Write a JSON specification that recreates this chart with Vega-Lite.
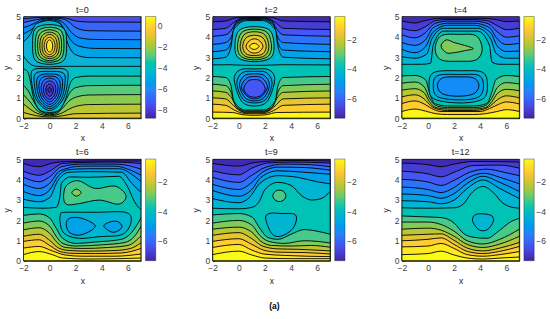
{"$schema":"https://vega.github.io/schema/vega-lite/v6.json","padding":{"left":1.5,"top":4.5,"right":0,"bottom":0},"bounds":"flush","columns":3,"spacing":{"column":71.2,"row":40.5},
"title":{"text":"(a)","orient":"bottom","anchor":"middle","fontSize":8.5,"fontWeight":"bold","font":"Liberation Sans","color":"#000000","offset":17},
"config":{"font":"Liberation Sans","view":{"stroke":"#262626","strokeWidth":0.8},"title":{"fontSize":9,"fontWeight":"normal","color":"#262626","offset":-2},"axis":{"grid":false,"labelFontSize":8.5,"titleFontSize":8.5,"titleFontWeight":"normal","labelColor":"#404040","titleColor":"#262626","domainColor":"#262626","tickColor":"#262626","tickSize":-2,"labelPadding":5,"titlePadding":4,"labelFlush":false,"labelOverlap":false},"legend":{"gradientLength":101.7,"gradientThickness":10.3,"offset":4.2,"padding":0,"labelFontSize":8.5,"labelColor":"#404040","tickCount":4,"gradientStrokeColor":"#262626","gradientStrokeWidth":0.4,"labelOffset":3}},
"datasets":{
"a0":[{"k":0,"v":-7.6,"x":-2,"y":5},{"k":0,"v":-7.6,"x":7,"y":5},
{"k":1,"v":-7,"x":-2,"y":4.88},{"k":1,"v":-7,"x":-1,"y":4.95},{"k":1,"v":-7,"x":0,"y":4.97},{"k":1,"v":-7,"x":1,"y":4.95},{"k":1,"v":-7,"x":1.5,"y":4.88},{"k":1,"v":-7,"x":2,"y":4.78},{"k":1,"v":-7,"x":3,"y":4.73},{"k":1,"v":-7,"x":7,"y":4.72},
{"k":2,"v":-6.4,"x":-2,"y":4.7},{"k":2,"v":-6.4,"x":-1,"y":4.85},{"k":2,"v":-6.4,"x":0,"y":4.93},{"k":2,"v":-6.4,"x":1,"y":4.88},{"k":2,"v":-6.4,"x":1.5,"y":4.72},{"k":2,"v":-6.4,"x":2,"y":4.45},{"k":2,"v":-6.4,"x":3,"y":4.3},{"k":2,"v":-6.4,"x":7,"y":4.28},
{"k":3,"v":-5.8,"x":-2,"y":4.45},{"k":3,"v":-5.8,"x":-1.2,"y":4.65},{"k":3,"v":-5.8,"x":-0.6,"y":4.85},{"k":3,"v":-5.8,"x":0,"y":4.9},{"k":3,"v":-5.8,"x":0.7,"y":4.83},{"k":3,"v":-5.8,"x":1.2,"y":4.6},{"k":3,"v":-5.8,"x":1.7,"y":4.2},{"k":3,"v":-5.8,"x":2.3,"y":3.95},{"k":3,"v":-5.8,"x":3.5,"y":3.87},{"k":3,"v":-5.8,"x":7,"y":3.86},
{"k":4,"v":-5.2,"x":-2,"y":4.15},{"k":4,"v":-5.2,"x":-1.2,"y":4.45},{"k":4,"v":-5.2,"x":-0.7,"y":4.75},{"k":4,"v":-5.2,"x":0,"y":4.85},{"k":4,"v":-5.2,"x":0.7,"y":4.75},{"k":4,"v":-5.2,"x":1.1,"y":4.4},{"k":4,"v":-5.2,"x":1.6,"y":3.85},{"k":4,"v":-5.2,"x":2.2,"y":3.55},{"k":4,"v":-5.2,"x":3.5,"y":3.43},{"k":4,"v":-5.2,"x":7,"y":3.42},
{"k":5,"v":-4.6,"x":-2,"y":3.75},{"k":5,"v":-4.6,"x":-1.5,"y":4.1},{"k":5,"v":-4.6,"x":-1,"y":4.65},{"k":5,"v":-4.6,"x":0,"y":4.8},{"k":5,"v":-4.6,"x":0.8,"y":4.65},{"k":5,"v":-4.6,"x":1.1,"y":4.2},{"k":5,"v":-4.6,"x":1.5,"y":3.5},{"k":5,"v":-4.6,"x":2,"y":3.12},{"k":5,"v":-4.6,"x":3,"y":2.98},{"k":5,"v":-4.6,"x":7,"y":2.97},
{"k":6,"v":-4,"x":-2,"y":3.05},{"k":6,"v":-4,"x":-1.55,"y":2.7},{"k":6,"v":-4,"x":-1,"y":2.55},{"k":6,"v":-4,"x":0,"y":2.52},{"k":6,"v":-4,"x":1,"y":2.55},{"k":6,"v":-4,"x":1.5,"y":2.55},{"k":6,"v":-4,"x":7,"y":2.55},
{"k":7,"v":-3.4,"x":-2,"y":2.42},{"k":7,"v":-3.4,"x":-1.7,"y":2.3},{"k":7,"v":-3.4,"x":-1.5,"y":1.9},{"k":7,"v":-3.4,"x":-1.3,"y":1.2},{"k":7,"v":-3.4,"x":-1,"y":0.6},{"k":7,"v":-3.4,"x":-0.5,"y":0.32},{"k":7,"v":-3.4,"x":0,"y":0.28},{"k":7,"v":-3.4,"x":0.5,"y":0.32},{"k":7,"v":-3.4,"x":1,"y":0.6},{"k":7,"v":-3.4,"x":1.3,"y":1.1},{"k":7,"v":-3.4,"x":1.6,"y":1.75},{"k":7,"v":-3.4,"x":2,"y":2},{"k":7,"v":-3.4,"x":3,"y":2.07},{"k":7,"v":-3.4,"x":7,"y":2.07},
{"k":8,"v":-2.8,"x":-2,"y":1.62},{"k":8,"v":-2.8,"x":-1.6,"y":1.3},{"k":8,"v":-2.8,"x":-1.2,"y":0.8},{"k":8,"v":-2.8,"x":-0.7,"y":0.35},{"k":8,"v":-2.8,"x":0,"y":0.22},{"k":8,"v":-2.8,"x":0.7,"y":0.35},{"k":8,"v":-2.8,"x":1.2,"y":0.85},{"k":8,"v":-2.8,"x":1.6,"y":1.3},{"k":8,"v":-2.8,"x":2,"y":1.5},{"k":8,"v":-2.8,"x":3,"y":1.6},{"k":8,"v":-2.8,"x":7,"y":1.62},
{"k":9,"v":-2.2,"x":-2,"y":1.15},{"k":9,"v":-2.2,"x":-1.5,"y":0.8},{"k":9,"v":-2.2,"x":-1,"y":0.4},{"k":9,"v":-2.2,"x":-0.4,"y":0.2},{"k":9,"v":-2.2,"x":0,"y":0.17},{"k":9,"v":-2.2,"x":0.5,"y":0.22},{"k":9,"v":-2.2,"x":1,"y":0.5},{"k":9,"v":-2.2,"x":1.5,"y":0.85},{"k":9,"v":-2.2,"x":2,"y":1.03},{"k":9,"v":-2.2,"x":3,"y":1.14},{"k":9,"v":-2.2,"x":7,"y":1.16},
{"k":10,"v":-1.6,"x":-2,"y":0.7},{"k":10,"v":-1.6,"x":-1.5,"y":0.45},{"k":10,"v":-1.6,"x":-1,"y":0.25},{"k":10,"v":-1.6,"x":0,"y":0.12},{"k":10,"v":-1.6,"x":1,"y":0.27},{"k":10,"v":-1.6,"x":1.5,"y":0.45},{"k":10,"v":-1.6,"x":2,"y":0.58},{"k":10,"v":-1.6,"x":3,"y":0.67},{"k":10,"v":-1.6,"x":7,"y":0.69},
{"k":11,"v":-1,"x":-2,"y":0.28},{"k":11,"v":-1,"x":-1,"y":0.12},{"k":11,"v":-1,"x":0,"y":0.06},{"k":11,"v":-1,"x":1,"y":0.12},{"k":11,"v":-1,"x":2,"y":0.22},{"k":11,"v":-1,"x":7,"y":0.25}],
"c0":[{"k":1,"v":-3.4,"x":1.3,"y":3.62},{"k":1,"v":-3.4,"x":1.1,"y":4.4},{"k":1,"v":-3.4,"x":0,"y":4.6},{"k":1,"v":-3.4,"x":-1.1,"y":4.4},{"k":1,"v":-3.4,"x":-1.3,"y":3.62},{"k":1,"v":-3.4,"x":-1.1,"y":2.85},{"k":1,"v":-3.4,"x":0,"y":2.65},{"k":1,"v":-3.4,"x":1.1,"y":2.85},
{"k":2,"v":-2.8,"x":1.1,"y":3.6},{"k":2,"v":-2.8,"x":0.9,"y":4.28},{"k":2,"v":-2.8,"x":0,"y":4.47},{"k":2,"v":-2.8,"x":-0.9,"y":4.28},{"k":2,"v":-2.8,"x":-1.1,"y":3.6},{"k":2,"v":-2.8,"x":-0.9,"y":2.95},{"k":2,"v":-2.8,"x":0,"y":2.75},{"k":2,"v":-2.8,"x":0.9,"y":2.95},
{"k":3,"v":-2.2,"x":0.92,"y":3.58},{"k":3,"v":-2.2,"x":0.74,"y":4.15},{"k":3,"v":-2.2,"x":0,"y":4.35},{"k":3,"v":-2.2,"x":-0.74,"y":4.15},{"k":3,"v":-2.2,"x":-0.92,"y":3.58},{"k":3,"v":-2.2,"x":-0.74,"y":3.03},{"k":3,"v":-2.2,"x":0,"y":2.83},{"k":3,"v":-2.2,"x":0.74,"y":3.03},
{"k":4,"v":-1.6,"x":0.75,"y":3.57},{"k":4,"v":-1.6,"x":0.58,"y":4.05},{"k":4,"v":-1.6,"x":0,"y":4.23},{"k":4,"v":-1.6,"x":-0.58,"y":4.05},{"k":4,"v":-1.6,"x":-0.75,"y":3.57},{"k":4,"v":-1.6,"x":-0.58,"y":3.1},{"k":4,"v":-1.6,"x":0,"y":2.93},{"k":4,"v":-1.6,"x":0.58,"y":3.1},
{"k":5,"v":-1,"x":0.58,"y":3.56},{"k":5,"v":-1,"x":0.44,"y":3.95},{"k":5,"v":-1,"x":0,"y":4.12},{"k":5,"v":-1,"x":-0.44,"y":3.95},{"k":5,"v":-1,"x":-0.58,"y":3.56},{"k":5,"v":-1,"x":-0.44,"y":3.17},{"k":5,"v":-1,"x":0,"y":3.02},{"k":5,"v":-1,"x":0.44,"y":3.17},
{"k":6,"v":-0.4,"x":0.42,"y":3.55},{"k":6,"v":-0.4,"x":0.3,"y":3.85},{"k":6,"v":-0.4,"x":0,"y":3.98},{"k":6,"v":-0.4,"x":-0.3,"y":3.85},{"k":6,"v":-0.4,"x":-0.42,"y":3.55},{"k":6,"v":-0.4,"x":-0.3,"y":3.25},{"k":6,"v":-0.4,"x":0,"y":3.12},{"k":6,"v":-0.4,"x":0.3,"y":3.25},
{"k":7,"v":0.5,"x":0.24,"y":3.55},{"k":7,"v":0.5,"x":0.17,"y":3.76},{"k":7,"v":0.5,"x":0,"y":3.85},{"k":7,"v":0.5,"x":-0.17,"y":3.76},{"k":7,"v":0.5,"x":-0.24,"y":3.55},{"k":7,"v":0.5,"x":-0.17,"y":3.34},{"k":7,"v":0.5,"x":0,"y":3.25},{"k":7,"v":0.5,"x":0.17,"y":3.34},
{"k":8,"v":-4.6,"x":1.42,"y":2.1},{"k":8,"v":-4.6,"x":1.1,"y":2.42},{"k":8,"v":-4.6,"x":0,"y":2.43},{"k":8,"v":-4.6,"x":-1.1,"y":2.42},{"k":8,"v":-4.6,"x":-1.42,"y":2.1},{"k":8,"v":-4.6,"x":-1.05,"y":0.95},{"k":8,"v":-4.6,"x":0,"y":0.38},{"k":8,"v":-4.6,"x":1.05,"y":0.95},
{"k":9,"v":-5.2,"x":1.2,"y":1.9},{"k":9,"v":-5.2,"x":0.95,"y":2.25},{"k":9,"v":-5.2,"x":0,"y":2.3},{"k":9,"v":-5.2,"x":-0.95,"y":2.25},{"k":9,"v":-5.2,"x":-1.2,"y":1.9},{"k":9,"v":-5.2,"x":-0.9,"y":0.95},{"k":9,"v":-5.2,"x":0,"y":0.47},{"k":9,"v":-5.2,"x":0.9,"y":0.95},
{"k":10,"v":-5.8,"x":1,"y":1.75},{"k":10,"v":-5.8,"x":0.75,"y":2.1},{"k":10,"v":-5.8,"x":0,"y":2.18},{"k":10,"v":-5.8,"x":-0.75,"y":2.1},{"k":10,"v":-5.8,"x":-1,"y":1.75},{"k":10,"v":-5.8,"x":-0.75,"y":0.98},{"k":10,"v":-5.8,"x":0,"y":0.57},{"k":10,"v":-5.8,"x":0.75,"y":0.98},
{"k":11,"v":-6.4,"x":0.82,"y":1.6},{"k":11,"v":-6.4,"x":0.6,"y":1.98},{"k":11,"v":-6.4,"x":0,"y":2.07},{"k":11,"v":-6.4,"x":-0.6,"y":1.98},{"k":11,"v":-6.4,"x":-0.82,"y":1.6},{"k":11,"v":-6.4,"x":-0.6,"y":1},{"k":11,"v":-6.4,"x":0,"y":0.68},{"k":11,"v":-6.4,"x":0.6,"y":1},
{"k":12,"v":-7,"x":0.65,"y":1.5},{"k":12,"v":-7,"x":0.47,"y":1.85},{"k":12,"v":-7,"x":0,"y":1.97},{"k":12,"v":-7,"x":-0.47,"y":1.85},{"k":12,"v":-7,"x":-0.65,"y":1.5},{"k":12,"v":-7,"x":-0.47,"y":1.05},{"k":12,"v":-7,"x":0,"y":0.8},{"k":12,"v":-7,"x":0.47,"y":1.05},
{"k":13,"v":-7.6,"x":0.48,"y":1.42},{"k":13,"v":-7.6,"x":0.34,"y":1.72},{"k":13,"v":-7.6,"x":0,"y":1.83},{"k":13,"v":-7.6,"x":-0.34,"y":1.72},{"k":13,"v":-7.6,"x":-0.48,"y":1.42},{"k":13,"v":-7.6,"x":-0.34,"y":1.1},{"k":13,"v":-7.6,"x":0,"y":0.93},{"k":13,"v":-7.6,"x":0.34,"y":1.1},
{"k":14,"v":-8.2,"x":0.3,"y":1.4},{"k":14,"v":-8.2,"x":0.2,"y":1.6},{"k":14,"v":-8.2,"x":0,"y":1.68},{"k":14,"v":-8.2,"x":-0.2,"y":1.6},{"k":14,"v":-8.2,"x":-0.3,"y":1.4},{"k":14,"v":-8.2,"x":-0.2,"y":1.18},{"k":14,"v":-8.2,"x":0,"y":1.08},{"k":14,"v":-8.2,"x":0.2,"y":1.18},
{"k":15,"v":-8.7,"x":0.14,"y":1.4},{"k":15,"v":-8.7,"x":0,"y":1.52},{"k":15,"v":-8.7,"x":-0.14,"y":1.4},{"k":15,"v":-8.7,"x":0,"y":1.26}],
"a1":[{"k":0,"v":-7.2,"x":-2,"y":5},{"k":0,"v":-7.2,"x":7,"y":5},
{"k":1,"v":-6.75,"x":-2,"y":4.74},{"k":1,"v":-6.75,"x":-1,"y":4.78},{"k":1,"v":-6.75,"x":-0.3,"y":4.93},{"k":1,"v":-6.75,"x":0.5,"y":4.98},{"k":1,"v":-6.75,"x":1.9,"y":4.98},{"k":1,"v":-6.75,"x":2.7,"y":4.93},{"k":1,"v":-6.75,"x":3.4,"y":4.78},{"k":1,"v":-6.75,"x":7,"y":4.74},
{"k":2,"v":-6.25,"x":-2,"y":4.36},{"k":2,"v":-6.25,"x":-1,"y":4.42},{"k":2,"v":-6.25,"x":-0.5,"y":4.65},{"k":2,"v":-6.25,"x":0,"y":4.87},{"k":2,"v":-6.25,"x":0.6,"y":4.96},{"k":2,"v":-6.25,"x":1.8,"y":4.96},{"k":2,"v":-6.25,"x":2.4,"y":4.87},{"k":2,"v":-6.25,"x":2.9,"y":4.65},{"k":2,"v":-6.25,"x":3.4,"y":4.42},{"k":2,"v":-6.25,"x":7,"y":4.36},
{"k":3,"v":-5.75,"x":-2,"y":4.03},{"k":3,"v":-5.75,"x":-1,"y":4.1},{"k":3,"v":-5.75,"x":-0.5,"y":4.4},{"k":3,"v":-5.75,"x":-0.1,"y":4.8},{"k":3,"v":-5.75,"x":0.6,"y":4.93},{"k":3,"v":-5.75,"x":1.8,"y":4.93},{"k":3,"v":-5.75,"x":2.5,"y":4.8},{"k":3,"v":-5.75,"x":2.9,"y":4.4},{"k":3,"v":-5.75,"x":3.4,"y":4.1},{"k":3,"v":-5.75,"x":7,"y":4.03},
{"k":4,"v":-5.25,"x":-2,"y":3.63},{"k":4,"v":-5.25,"x":-1,"y":3.72},{"k":4,"v":-5.25,"x":-0.5,"y":4.1},{"k":4,"v":-5.25,"x":-0.2,"y":4.7},{"k":4,"v":-5.25,"x":0.6,"y":4.9},{"k":4,"v":-5.25,"x":1.8,"y":4.9},{"k":4,"v":-5.25,"x":2.6,"y":4.7},{"k":4,"v":-5.25,"x":2.9,"y":4.1},{"k":4,"v":-5.25,"x":3.4,"y":3.72},{"k":4,"v":-5.25,"x":7,"y":3.63},
{"k":5,"v":-4.75,"x":-2,"y":3.27},{"k":5,"v":-4.75,"x":-1,"y":3.35},{"k":5,"v":-4.75,"x":-0.55,"y":3.8},{"k":5,"v":-4.75,"x":-0.3,"y":4.55},{"k":5,"v":-4.75,"x":0.6,"y":4.85},{"k":5,"v":-4.75,"x":1.8,"y":4.85},{"k":5,"v":-4.75,"x":2.7,"y":4.55},{"k":5,"v":-4.75,"x":2.95,"y":3.8},{"k":5,"v":-4.75,"x":3.4,"y":3.35},{"k":5,"v":-4.75,"x":7,"y":3.27},
{"k":6,"v":-4.25,"x":-2,"y":2.92},{"k":6,"v":-4.25,"x":-1,"y":3},{"k":6,"v":-4.25,"x":-0.6,"y":3.5},{"k":6,"v":-4.25,"x":-0.4,"y":4.35},{"k":6,"v":-4.25,"x":0.6,"y":4.8},{"k":6,"v":-4.25,"x":1.8,"y":4.8},{"k":6,"v":-4.25,"x":2.8,"y":4.35},{"k":6,"v":-4.25,"x":3,"y":3.5},{"k":6,"v":-4.25,"x":3.4,"y":3},{"k":6,"v":-4.25,"x":7,"y":2.92},
{"k":7,"v":-3.75,"x":-2,"y":2.62},{"k":7,"v":-3.75,"x":-0.8,"y":2.63},{"k":7,"v":-3.75,"x":0.5,"y":2.6},{"k":7,"v":-3.75,"x":1.2,"y":2.6},{"k":7,"v":-3.75,"x":2,"y":2.6},{"k":7,"v":-3.75,"x":3.2,"y":2.63},{"k":7,"v":-3.75,"x":7,"y":2.62},
{"k":8,"v":-3.25,"x":-2,"y":2.05},{"k":8,"v":-3.25,"x":-1,"y":2},{"k":8,"v":-3.25,"x":-0.6,"y":1.6},{"k":8,"v":-3.25,"x":-0.4,"y":0.85},{"k":8,"v":-3.25,"x":0.5,"y":0.4},{"k":8,"v":-3.25,"x":1.9,"y":0.4},{"k":8,"v":-3.25,"x":2.8,"y":0.85},{"k":8,"v":-3.25,"x":3,"y":1.6},{"k":8,"v":-3.25,"x":3.4,"y":2},{"k":8,"v":-3.25,"x":7,"y":2.05},
{"k":9,"v":-2.75,"x":-2,"y":1.67},{"k":9,"v":-2.75,"x":-1,"y":1.6},{"k":9,"v":-2.75,"x":-0.55,"y":1.2},{"k":9,"v":-2.75,"x":-0.3,"y":0.65},{"k":9,"v":-2.75,"x":0.5,"y":0.35},{"k":9,"v":-2.75,"x":1.9,"y":0.35},{"k":9,"v":-2.75,"x":2.7,"y":0.65},{"k":9,"v":-2.75,"x":2.95,"y":1.2},{"k":9,"v":-2.75,"x":3.4,"y":1.6},{"k":9,"v":-2.75,"x":7,"y":1.67},
{"k":10,"v":-2.25,"x":-2,"y":1.34},{"k":10,"v":-2.25,"x":-1,"y":1.27},{"k":10,"v":-2.25,"x":-0.5,"y":0.95},{"k":10,"v":-2.25,"x":-0.15,"y":0.52},{"k":10,"v":-2.25,"x":0.5,"y":0.31},{"k":10,"v":-2.25,"x":1.9,"y":0.31},{"k":10,"v":-2.25,"x":2.55,"y":0.52},{"k":10,"v":-2.25,"x":2.9,"y":0.95},{"k":10,"v":-2.25,"x":3.4,"y":1.27},{"k":10,"v":-2.25,"x":7,"y":1.34},
{"k":11,"v":-1.75,"x":-2,"y":1},{"k":11,"v":-1.75,"x":-1,"y":0.95},{"k":11,"v":-1.75,"x":-0.5,"y":0.68},{"k":11,"v":-1.75,"x":0,"y":0.4},{"k":11,"v":-1.75,"x":0.6,"y":0.27},{"k":11,"v":-1.75,"x":1.8,"y":0.27},{"k":11,"v":-1.75,"x":2.4,"y":0.4},{"k":11,"v":-1.75,"x":2.9,"y":0.68},{"k":11,"v":-1.75,"x":3.4,"y":0.95},{"k":11,"v":-1.75,"x":7,"y":1},
{"k":12,"v":-1.25,"x":-2,"y":0.69},{"k":12,"v":-1.25,"x":-1,"y":0.63},{"k":12,"v":-1.25,"x":-0.4,"y":0.42},{"k":12,"v":-1.25,"x":0.2,"y":0.26},{"k":12,"v":-1.25,"x":0.8,"y":0.22},{"k":12,"v":-1.25,"x":1.6,"y":0.22},{"k":12,"v":-1.25,"x":2.2,"y":0.26},{"k":12,"v":-1.25,"x":2.8,"y":0.42},{"k":12,"v":-1.25,"x":3.4,"y":0.63},{"k":12,"v":-1.25,"x":7,"y":0.69},
{"k":13,"v":-0.55,"x":-2,"y":0.3},{"k":13,"v":-0.55,"x":-0.5,"y":0.28},{"k":13,"v":-0.55,"x":0.3,"y":0.17},{"k":13,"v":-0.55,"x":1.2,"y":0.14},{"k":13,"v":-0.55,"x":2.1,"y":0.17},{"k":13,"v":-0.55,"x":2.9,"y":0.28},{"k":13,"v":-0.55,"x":7,"y":0.3}],
"c1":[{"k":1,"v":-3.25,"x":2.7,"y":3.5},{"k":1,"v":-3.25,"x":2.4,"y":4.3},{"k":1,"v":-3.25,"x":1.2,"y":4.5},{"k":1,"v":-3.25,"x":0,"y":4.3},{"k":1,"v":-3.25,"x":-0.3,"y":3.5},{"k":1,"v":-3.25,"x":0,"y":2.95},{"k":1,"v":-3.25,"x":1.2,"y":2.78},{"k":1,"v":-3.25,"x":2.4,"y":2.95},
{"k":2,"v":-2.75,"x":2.5,"y":3.5},{"k":2,"v":-2.75,"x":2.2,"y":4.2},{"k":2,"v":-2.75,"x":1.2,"y":4.38},{"k":2,"v":-2.75,"x":0.2,"y":4.2},{"k":2,"v":-2.75,"x":-0.1,"y":3.5},{"k":2,"v":-2.75,"x":0.2,"y":3.02},{"k":2,"v":-2.75,"x":1.2,"y":2.87},{"k":2,"v":-2.75,"x":2.2,"y":3.02},
{"k":3,"v":-2.25,"x":2.3,"y":3.52},{"k":3,"v":-2.25,"x":2,"y":4.1},{"k":3,"v":-2.25,"x":1.2,"y":4.25},{"k":3,"v":-2.25,"x":0.4,"y":4.1},{"k":3,"v":-2.25,"x":0.1,"y":3.52},{"k":3,"v":-2.25,"x":0.4,"y":3.08},{"k":3,"v":-2.25,"x":1.2,"y":2.97},{"k":3,"v":-2.25,"x":2,"y":3.08},
{"k":4,"v":-1.75,"x":2.1,"y":3.53},{"k":4,"v":-1.75,"x":1.85,"y":3.95},{"k":4,"v":-1.75,"x":1.2,"y":4.08},{"k":4,"v":-1.75,"x":0.55,"y":3.95},{"k":4,"v":-1.75,"x":0.3,"y":3.53},{"k":4,"v":-1.75,"x":0.55,"y":3.17},{"k":4,"v":-1.75,"x":1.2,"y":3.08},{"k":4,"v":-1.75,"x":1.85,"y":3.17},
{"k":5,"v":-1.25,"x":1.85,"y":3.53},{"k":5,"v":-1.25,"x":1.6,"y":3.8},{"k":5,"v":-1.25,"x":1.2,"y":3.9},{"k":5,"v":-1.25,"x":0.8,"y":3.8},{"k":5,"v":-1.25,"x":0.55,"y":3.53},{"k":5,"v":-1.25,"x":0.8,"y":3.28},{"k":5,"v":-1.25,"x":1.2,"y":3.2},{"k":5,"v":-1.25,"x":1.6,"y":3.28},
{"k":6,"v":-0.75,"x":1.55,"y":3.53},{"k":6,"v":-0.75,"x":1.38,"y":3.64},{"k":6,"v":-0.75,"x":1.18,"y":3.68},{"k":6,"v":-0.75,"x":0.98,"y":3.64},{"k":6,"v":-0.75,"x":0.8,"y":3.53},{"k":6,"v":-0.75,"x":0.98,"y":3.42},{"k":6,"v":-0.75,"x":1.18,"y":3.38},{"k":6,"v":-0.75,"x":1.38,"y":3.42},
{"k":7,"v":-4.25,"x":2.75,"y":1.9},{"k":7,"v":-4.25,"x":2.3,"y":2.38},{"k":7,"v":-4.25,"x":1.2,"y":2.42},{"k":7,"v":-4.25,"x":0.1,"y":2.38},{"k":7,"v":-4.25,"x":-0.35,"y":1.9},{"k":7,"v":-4.25,"x":0.2,"y":0.85},{"k":7,"v":-4.25,"x":1.2,"y":0.6},{"k":7,"v":-4.25,"x":2.2,"y":0.85},
{"k":8,"v":-4.75,"x":2.55,"y":1.75},{"k":8,"v":-4.75,"x":2.1,"y":2.25},{"k":8,"v":-4.75,"x":1.2,"y":2.3},{"k":8,"v":-4.75,"x":0.3,"y":2.25},{"k":8,"v":-4.75,"x":-0.15,"y":1.75},{"k":8,"v":-4.75,"x":0.3,"y":0.95},{"k":8,"v":-4.75,"x":1.2,"y":0.75},{"k":8,"v":-4.75,"x":2.1,"y":0.95},
{"k":9,"v":-5.25,"x":2.35,"y":1.65},{"k":9,"v":-5.25,"x":1.95,"y":2.1},{"k":9,"v":-5.25,"x":1.2,"y":2.18},{"k":9,"v":-5.25,"x":0.45,"y":2.1},{"k":9,"v":-5.25,"x":0.05,"y":1.65},{"k":9,"v":-5.25,"x":0.45,"y":1.02},{"k":9,"v":-5.25,"x":1.2,"y":0.85},{"k":9,"v":-5.25,"x":1.95,"y":1.02},
{"k":10,"v":-5.75,"x":2.2,"y":1.55},{"k":10,"v":-5.75,"x":1.8,"y":1.97},{"k":10,"v":-5.75,"x":1.2,"y":2.05},{"k":10,"v":-5.75,"x":0.6,"y":1.97},{"k":10,"v":-5.75,"x":0.2,"y":1.55},{"k":10,"v":-5.75,"x":0.6,"y":1.1},{"k":10,"v":-5.75,"x":1.2,"y":0.95},{"k":10,"v":-5.75,"x":1.8,"y":1.1},
{"k":11,"v":-6.25,"x":2.02,"y":1.45},{"k":11,"v":-6.25,"x":1.7,"y":1.82},{"k":11,"v":-6.25,"x":1.2,"y":1.9},{"k":11,"v":-6.25,"x":0.7,"y":1.82},{"k":11,"v":-6.25,"x":0.38,"y":1.45},{"k":11,"v":-6.25,"x":0.7,"y":1.12},{"k":11,"v":-6.25,"x":1.2,"y":1.03},{"k":11,"v":-6.25,"x":1.7,"y":1.12}],
"a2":[{"k":0,"v":-7.2,"x":-2,"y":5},{"k":0,"v":-7.2,"x":7,"y":5},
{"k":1,"v":-6.75,"x":-2,"y":4.78},{"k":1,"v":-6.75,"x":-1,"y":4.68},{"k":1,"v":-6.75,"x":-0.2,"y":4.8},{"k":1,"v":-6.75,"x":1,"y":4.92},{"k":1,"v":-6.75,"x":4,"y":4.92},{"k":1,"v":-6.75,"x":5.2,"y":4.85},{"k":1,"v":-6.75,"x":6,"y":4.75},{"k":1,"v":-6.75,"x":7,"y":4.78},
{"k":2,"v":-6.25,"x":-2,"y":4.42},{"k":2,"v":-6.25,"x":-1,"y":4.3},{"k":2,"v":-6.25,"x":-0.2,"y":4.5},{"k":2,"v":-6.25,"x":0.6,"y":4.8},{"k":2,"v":-6.25,"x":1.5,"y":4.85},{"k":2,"v":-6.25,"x":3.5,"y":4.85},{"k":2,"v":-6.25,"x":4.5,"y":4.8},{"k":2,"v":-6.25,"x":5.3,"y":4.55},{"k":2,"v":-6.25,"x":6,"y":4.35},{"k":2,"v":-6.25,"x":7,"y":4.42},
{"k":3,"v":-5.75,"x":-2,"y":4.1},{"k":3,"v":-5.75,"x":-1,"y":3.95},{"k":3,"v":-5.75,"x":-0.2,"y":4.2},{"k":3,"v":-5.75,"x":0.5,"y":4.65},{"k":3,"v":-5.75,"x":1.5,"y":4.77},{"k":3,"v":-5.75,"x":3.5,"y":4.77},{"k":3,"v":-5.75,"x":4.6,"y":4.65},{"k":3,"v":-5.75,"x":5.3,"y":4.25},{"k":3,"v":-5.75,"x":6,"y":3.98},{"k":3,"v":-5.75,"x":7,"y":4.05},
{"k":4,"v":-5.25,"x":-2,"y":3.72},{"k":4,"v":-5.25,"x":-1,"y":3.58},{"k":4,"v":-5.25,"x":-0.2,"y":3.85},{"k":4,"v":-5.25,"x":0.4,"y":4.45},{"k":4,"v":-5.25,"x":1.5,"y":4.67},{"k":4,"v":-5.25,"x":3.5,"y":4.67},{"k":4,"v":-5.25,"x":4.7,"y":4.45},{"k":4,"v":-5.25,"x":5.3,"y":3.9},{"k":4,"v":-5.25,"x":6,"y":3.62},{"k":4,"v":-5.25,"x":7,"y":3.68},
{"k":5,"v":-4.75,"x":-2,"y":3.38},{"k":5,"v":-4.75,"x":-1,"y":3.22},{"k":5,"v":-4.75,"x":-0.2,"y":3.5},{"k":5,"v":-4.75,"x":0.35,"y":4.2},{"k":5,"v":-4.75,"x":1.5,"y":4.57},{"k":5,"v":-4.75,"x":3.5,"y":4.57},{"k":5,"v":-4.75,"x":4.8,"y":4.2},{"k":5,"v":-4.75,"x":5.3,"y":3.55},{"k":5,"v":-4.75,"x":6,"y":3.28},{"k":5,"v":-4.75,"x":7,"y":3.3},
{"k":6,"v":-4.25,"x":-2,"y":3.02},{"k":6,"v":-4.25,"x":-1,"y":2.95},{"k":6,"v":-4.25,"x":-0.1,"y":3.15},{"k":6,"v":-4.25,"x":0.3,"y":3.9},{"k":6,"v":-4.25,"x":1.2,"y":4.42},{"k":6,"v":-4.25,"x":3.8,"y":4.42},{"k":6,"v":-4.25,"x":4.8,"y":3.9},{"k":6,"v":-4.25,"x":5.2,"y":3.2},{"k":6,"v":-4.25,"x":6,"y":2.95},{"k":6,"v":-4.25,"x":7,"y":2.95},
{"k":7,"v":-3.75,"x":-2,"y":2.65},{"k":7,"v":-3.75,"x":-0.5,"y":2.65},{"k":7,"v":-3.75,"x":0.2,"y":2.7},{"k":7,"v":-3.75,"x":0.4,"y":3.6},{"k":7,"v":-3.75,"x":1.2,"y":4.28},{"k":7,"v":-3.75,"x":3.8,"y":4.28},{"k":7,"v":-3.75,"x":4.7,"y":3.6},{"k":7,"v":-3.75,"x":4.9,"y":2.75},{"k":7,"v":-3.75,"x":5.5,"y":2.65},{"k":7,"v":-3.75,"x":7,"y":2.65},
{"k":8,"v":-3.25,"x":-2,"y":2.08},{"k":8,"v":-3.25,"x":-1,"y":2.1},{"k":8,"v":-3.25,"x":-0.2,"y":1.9},{"k":8,"v":-3.25,"x":0.1,"y":1.3},{"k":8,"v":-3.25,"x":0.5,"y":0.72},{"k":8,"v":-3.25,"x":1.5,"y":0.6},{"k":8,"v":-3.25,"x":3.5,"y":0.6},{"k":8,"v":-3.25,"x":4.5,"y":0.72},{"k":8,"v":-3.25,"x":4.9,"y":1.3},{"k":8,"v":-3.25,"x":5.2,"y":1.9},{"k":8,"v":-3.25,"x":6,"y":2.1},{"k":8,"v":-3.25,"x":7,"y":2.05},
{"k":9,"v":-2.75,"x":-2,"y":1.72},{"k":9,"v":-2.75,"x":-1,"y":1.78},{"k":9,"v":-2.75,"x":-0.3,"y":1.55},{"k":9,"v":-2.75,"x":0.1,"y":1},{"k":9,"v":-2.75,"x":0.6,"y":0.62},{"k":9,"v":-2.75,"x":1.5,"y":0.52},{"k":9,"v":-2.75,"x":3.5,"y":0.52},{"k":9,"v":-2.75,"x":4.4,"y":0.62},{"k":9,"v":-2.75,"x":4.9,"y":1},{"k":9,"v":-2.75,"x":5.3,"y":1.5},{"k":9,"v":-2.75,"x":6,"y":1.75},{"k":9,"v":-2.75,"x":7,"y":1.68},
{"k":10,"v":-2.25,"x":-2,"y":1.38},{"k":10,"v":-2.25,"x":-1,"y":1.45},{"k":10,"v":-2.25,"x":-0.3,"y":1.25},{"k":10,"v":-2.25,"x":0.1,"y":0.82},{"k":10,"v":-2.25,"x":0.6,"y":0.52},{"k":10,"v":-2.25,"x":1.5,"y":0.45},{"k":10,"v":-2.25,"x":3.5,"y":0.45},{"k":10,"v":-2.25,"x":4.4,"y":0.52},{"k":10,"v":-2.25,"x":4.9,"y":0.82},{"k":10,"v":-2.25,"x":5.3,"y":1.2},{"k":10,"v":-2.25,"x":6,"y":1.42},{"k":10,"v":-2.25,"x":7,"y":1.35},
{"k":11,"v":-1.75,"x":-2,"y":1.05},{"k":11,"v":-1.75,"x":-1,"y":1.15},{"k":11,"v":-1.75,"x":-0.3,"y":0.95},{"k":11,"v":-1.75,"x":0.2,"y":0.62},{"k":11,"v":-1.75,"x":0.8,"y":0.43},{"k":11,"v":-1.75,"x":1.5,"y":0.38},{"k":11,"v":-1.75,"x":3.5,"y":0.38},{"k":11,"v":-1.75,"x":4.2,"y":0.43},{"k":11,"v":-1.75,"x":4.8,"y":0.62},{"k":11,"v":-1.75,"x":5.3,"y":0.9},{"k":11,"v":-1.75,"x":6,"y":1.1},{"k":11,"v":-1.75,"x":7,"y":1},
{"k":12,"v":-1.25,"x":-2,"y":0.72},{"k":12,"v":-1.25,"x":-1,"y":0.85},{"k":12,"v":-1.25,"x":-0.3,"y":0.7},{"k":12,"v":-1.25,"x":0.3,"y":0.47},{"k":12,"v":-1.25,"x":1,"y":0.33},{"k":12,"v":-1.25,"x":4,"y":0.33},{"k":12,"v":-1.25,"x":4.7,"y":0.47},{"k":12,"v":-1.25,"x":5.4,"y":0.68},{"k":12,"v":-1.25,"x":6,"y":0.8},{"k":12,"v":-1.25,"x":7,"y":0.7},
{"k":13,"v":-0.55,"x":-2,"y":0.33},{"k":13,"v":-0.55,"x":-1,"y":0.45},{"k":13,"v":-0.55,"x":-0.2,"y":0.35},{"k":13,"v":-0.55,"x":0.6,"y":0.22},{"k":13,"v":-0.55,"x":1.5,"y":0.18},{"k":13,"v":-0.55,"x":3.5,"y":0.18},{"k":13,"v":-0.55,"x":4.4,"y":0.22},{"k":13,"v":-0.55,"x":5.3,"y":0.33},{"k":13,"v":-0.55,"x":6,"y":0.42},{"k":13,"v":-0.55,"x":7,"y":0.33}],
"c2":[{"k":1,"v":-3.25,"x":4.15,"y":3.4},{"k":1,"v":-3.25,"x":3.7,"y":4.05},{"k":1,"v":-3.25,"x":2.4,"y":4.12},{"k":1,"v":-3.25,"x":1,"y":4.05},{"k":1,"v":-3.25,"x":0.55,"y":3.4},{"k":1,"v":-3.25,"x":1,"y":2.87},{"k":1,"v":-3.25,"x":2.4,"y":2.8},{"k":1,"v":-3.25,"x":3.7,"y":2.87},
{"k":2,"v":-2.75,"x":1,"y":3.55},{"k":2,"v":-2.75,"x":1.4,"y":3.85},{"k":2,"v":-2.75,"x":2,"y":3.72},{"k":2,"v":-2.75,"x":2.8,"y":3.58},{"k":2,"v":-2.75,"x":3.47,"y":3.42},{"k":2,"v":-2.75,"x":2.8,"y":3.32},{"k":2,"v":-2.75,"x":2,"y":3.22},{"k":2,"v":-2.75,"x":1.4,"y":3.22},
{"k":3,"v":-4.25,"x":4.55,"y":1.6},{"k":3,"v":-4.25,"x":4.2,"y":2.25},{"k":3,"v":-4.25,"x":2.5,"y":2.33},{"k":3,"v":-4.25,"x":0.45,"y":2.25},{"k":3,"v":-4.25,"x":0.08,"y":1.6},{"k":3,"v":-4.25,"x":0.45,"y":0.95},{"k":3,"v":-4.25,"x":2.5,"y":0.75},{"k":3,"v":-4.25,"x":4.2,"y":0.95},
{"k":4,"v":-4.75,"x":4.25,"y":1.6},{"k":4,"v":-4.75,"x":3.9,"y":2.1},{"k":4,"v":-4.75,"x":2.5,"y":2.15},{"k":4,"v":-4.75,"x":0.75,"y":2.1},{"k":4,"v":-4.75,"x":0.4,"y":1.6},{"k":4,"v":-4.75,"x":0.75,"y":1.05},{"k":4,"v":-4.75,"x":2.5,"y":0.9},{"k":4,"v":-4.75,"x":3.9,"y":1.05},
{"k":5,"v":-5.25,"x":3.9,"y":1.6},{"k":5,"v":-5.25,"x":3.5,"y":1.98},{"k":5,"v":-5.25,"x":2.3,"y":2.03},{"k":5,"v":-5.25,"x":1.1,"y":1.98},{"k":5,"v":-5.25,"x":0.72,"y":1.6},{"k":5,"v":-5.25,"x":1.1,"y":1.2},{"k":5,"v":-5.25,"x":2.3,"y":1.08},{"k":5,"v":-5.25,"x":3.5,"y":1.2}],
"a3":[{"k":0,"v":-7.2,"x":-2,"y":5},{"k":0,"v":-7.2,"x":7,"y":5},
{"k":1,"v":-6.75,"x":-2,"y":4.78},{"k":1,"v":-6.75,"x":-0.8,"y":4.62},{"k":1,"v":-6.75,"x":0.2,"y":4.8},{"k":1,"v":-6.75,"x":1.5,"y":4.88},{"k":1,"v":-6.75,"x":4,"y":4.9},{"k":1,"v":-6.75,"x":7,"y":4.9},
{"k":2,"v":-6.25,"x":-2,"y":4.4},{"k":2,"v":-6.25,"x":-0.8,"y":4.2},{"k":2,"v":-6.25,"x":0,"y":4.4},{"k":2,"v":-6.25,"x":1,"y":4.78},{"k":2,"v":-6.25,"x":2.5,"y":4.83},{"k":2,"v":-6.25,"x":5,"y":4.85},{"k":2,"v":-6.25,"x":7,"y":4.78},
{"k":3,"v":-5.75,"x":-2,"y":4.1},{"k":3,"v":-5.75,"x":-0.8,"y":3.88},{"k":3,"v":-5.75,"x":0,"y":4.12},{"k":3,"v":-5.75,"x":0.9,"y":4.62},{"k":3,"v":-5.75,"x":2.5,"y":4.75},{"k":3,"v":-5.75,"x":5,"y":4.75},{"k":3,"v":-5.75,"x":6.2,"y":4.65},{"k":3,"v":-5.75,"x":7,"y":4.5},
{"k":4,"v":-5.25,"x":-2,"y":3.75},{"k":4,"v":-5.25,"x":-0.8,"y":3.55},{"k":4,"v":-5.25,"x":0,"y":3.8},{"k":4,"v":-5.25,"x":0.8,"y":4.42},{"k":4,"v":-5.25,"x":2.5,"y":4.65},{"k":4,"v":-5.25,"x":5,"y":4.65},{"k":4,"v":-5.25,"x":6.2,"y":4.45},{"k":4,"v":-5.25,"x":7,"y":4.2},
{"k":5,"v":-4.75,"x":-2,"y":3.4},{"k":5,"v":-4.75,"x":-0.8,"y":3.2},{"k":5,"v":-4.75,"x":0,"y":3.48},{"k":5,"v":-4.75,"x":0.7,"y":4.2},{"k":5,"v":-4.75,"x":1.5,"y":4.48},{"k":5,"v":-4.75,"x":3,"y":4.52},{"k":5,"v":-4.75,"x":5.3,"y":4.52},{"k":5,"v":-4.75,"x":6.4,"y":4.2},{"k":5,"v":-4.75,"x":7,"y":3.88},
{"k":6,"v":-4.25,"x":-2,"y":3.02},{"k":6,"v":-4.25,"x":-0.8,"y":2.9},{"k":6,"v":-4.25,"x":0,"y":3.1},{"k":6,"v":-4.25,"x":0.6,"y":3.9},{"k":6,"v":-4.25,"x":1.5,"y":4.35},{"k":6,"v":-4.25,"x":3,"y":4.38},{"k":6,"v":-4.25,"x":5.5,"y":4.35},{"k":6,"v":-4.25,"x":6.3,"y":3.8},{"k":6,"v":-4.25,"x":7,"y":3.35},
{"k":7,"v":-3.75,"x":-2,"y":2.62},{"k":7,"v":-3.75,"x":-0.5,"y":2.58},{"k":7,"v":-3.75,"x":0.5,"y":2.62},{"k":7,"v":-3.75,"x":0.8,"y":3.2},{"k":7,"v":-3.75,"x":0.9,"y":3.8},{"k":7,"v":-3.75,"x":1.6,"y":4.12},{"k":7,"v":-3.75,"x":3,"y":4.1},{"k":7,"v":-3.75,"x":5.3,"y":4.15},{"k":7,"v":-3.75,"x":6,"y":3.6},{"k":7,"v":-3.75,"x":6.5,"y":2.9},{"k":7,"v":-3.75,"x":7,"y":2.5},
{"k":8,"v":-3.25,"x":-2,"y":2.23},{"k":8,"v":-3.25,"x":-0.8,"y":2.3},{"k":8,"v":-3.25,"x":0,"y":2.1},{"k":8,"v":-3.25,"x":0.5,"y":1.6},{"k":8,"v":-3.25,"x":1,"y":1.1},{"k":8,"v":-3.25,"x":2,"y":0.85},{"k":8,"v":-3.25,"x":3.5,"y":0.92},{"k":8,"v":-3.25,"x":5.5,"y":1.05},{"k":8,"v":-3.25,"x":6.3,"y":1.4},{"k":8,"v":-3.25,"x":7,"y":2.1},
{"k":9,"v":-2.75,"x":-2,"y":1.85},{"k":9,"v":-2.75,"x":-0.8,"y":1.95},{"k":9,"v":-2.75,"x":0,"y":1.7},{"k":9,"v":-2.75,"x":0.5,"y":1.2},{"k":9,"v":-2.75,"x":1,"y":0.85},{"k":9,"v":-2.75,"x":2,"y":0.72},{"k":9,"v":-2.75,"x":4,"y":0.78},{"k":9,"v":-2.75,"x":5.8,"y":0.9},{"k":9,"v":-2.75,"x":6.5,"y":1.2},{"k":9,"v":-2.75,"x":7,"y":1.68},
{"k":10,"v":-2.25,"x":-2,"y":1.52},{"k":10,"v":-2.25,"x":-0.8,"y":1.62},{"k":10,"v":-2.25,"x":0,"y":1.35},{"k":10,"v":-2.25,"x":0.6,"y":0.88},{"k":10,"v":-2.25,"x":1.2,"y":0.65},{"k":10,"v":-2.25,"x":2.5,"y":0.6},{"k":10,"v":-2.25,"x":4.5,"y":0.65},{"k":10,"v":-2.25,"x":6,"y":0.75},{"k":10,"v":-2.25,"x":7,"y":1.22},
{"k":11,"v":-1.75,"x":-2,"y":1.2},{"k":11,"v":-1.75,"x":-0.8,"y":1.3},{"k":11,"v":-1.75,"x":0,"y":1},{"k":11,"v":-1.75,"x":0.7,"y":0.62},{"k":11,"v":-1.75,"x":1.5,"y":0.5},{"k":11,"v":-1.75,"x":3,"y":0.47},{"k":11,"v":-1.75,"x":5,"y":0.5},{"k":11,"v":-1.75,"x":6.2,"y":0.6},{"k":11,"v":-1.75,"x":7,"y":0.88},
{"k":12,"v":-1.25,"x":-2,"y":0.95},{"k":12,"v":-1.25,"x":-0.8,"y":1.03},{"k":12,"v":-1.25,"x":0,"y":0.75},{"k":12,"v":-1.25,"x":0.8,"y":0.45},{"k":12,"v":-1.25,"x":1.8,"y":0.36},{"k":12,"v":-1.25,"x":3.5,"y":0.35},{"k":12,"v":-1.25,"x":5.5,"y":0.38},{"k":12,"v":-1.25,"x":7,"y":0.6},
{"k":13,"v":-0.75,"x":-2,"y":0.62},{"k":13,"v":-0.75,"x":-0.8,"y":0.7},{"k":13,"v":-0.75,"x":0.2,"y":0.48},{"k":13,"v":-0.75,"x":1.2,"y":0.28},{"k":13,"v":-0.75,"x":2.5,"y":0.22},{"k":13,"v":-0.75,"x":5,"y":0.22},{"k":13,"v":-0.75,"x":7,"y":0.33},
{"k":14,"v":-0.47,"x":-2,"y":0.3},{"k":14,"v":-0.47,"x":-0.8,"y":0.45},{"k":14,"v":-0.47,"x":0.2,"y":0.3},{"k":14,"v":-0.47,"x":1,"y":0.13},{"k":14,"v":-0.47,"x":3,"y":0.08},{"k":14,"v":-0.47,"x":7,"y":0.13}],
"c3":[{"k":1,"v":-3.25,"x":1.07,"y":3.15},{"k":1,"v":-3.25,"x":1.3,"y":3.7},{"k":1,"v":-3.25,"x":2.2,"y":3.93},{"k":1,"v":-3.25,"x":3.5,"y":3.55},{"k":1,"v":-3.25,"x":5,"y":3.67},{"k":1,"v":-3.25,"x":5.85,"y":3.2},{"k":1,"v":-3.25,"x":5.3,"y":2.78},{"k":1,"v":-3.25,"x":3.8,"y":2.98},{"k":1,"v":-3.25,"x":2.2,"y":2.8},{"k":1,"v":-3.25,"x":1.3,"y":2.77},
{"k":2,"v":-2.75,"x":1.7,"y":3.35},{"k":2,"v":-2.75,"x":2.05,"y":3.52},{"k":2,"v":-2.75,"x":2.42,"y":3.35},{"k":2,"v":-2.75,"x":2.05,"y":3.17},
{"k":3,"v":-4.25,"x":0.85,"y":2.3},{"k":3,"v":-4.25,"x":1.2,"y":2.38},{"k":3,"v":-4.25,"x":3.5,"y":2.38},{"k":3,"v":-4.25,"x":5.8,"y":2.38},{"k":3,"v":-4.25,"x":6.25,"y":1.95},{"k":3,"v":-4.25,"x":5.6,"y":1.3},{"k":3,"v":-4.25,"x":3.8,"y":1.18},{"k":3,"v":-4.25,"x":2.2,"y":1.1},{"k":3,"v":-4.25,"x":1.1,"y":1.35},{"k":3,"v":-4.25,"x":0.8,"y":1.9},
{"k":4,"v":-4.75,"x":1.27,"y":1.8},{"k":4,"v":-4.75,"x":1.5,"y":2.08},{"k":4,"v":-4.75,"x":2.2,"y":2.12},{"k":4,"v":-4.75,"x":3,"y":1.95},{"k":4,"v":-4.75,"x":3.5,"y":1.7},{"k":4,"v":-4.75,"x":3,"y":1.42},{"k":4,"v":-4.75,"x":2.2,"y":1.25},{"k":4,"v":-4.75,"x":1.5,"y":1.4},
{"k":5,"v":-4.75,"x":4.15,"y":1.7},{"k":5,"v":-4.75,"x":4.6,"y":1.9},{"k":5,"v":-4.75,"x":5.2,"y":1.93},{"k":5,"v":-4.75,"x":5.55,"y":1.68},{"k":5,"v":-4.75,"x":5.2,"y":1.45},{"k":5,"v":-4.75,"x":4.7,"y":1.42}],
"a4":[{"k":0,"v":-7.2,"x":-2,"y":5},{"k":0,"v":-7.2,"x":7,"y":5},
{"k":1,"v":-6.75,"x":-2,"y":4.78},{"k":1,"v":-6.75,"x":0,"y":4.65},{"k":1,"v":-6.75,"x":1,"y":4.8},{"k":1,"v":-6.75,"x":2.5,"y":4.9},{"k":1,"v":-6.75,"x":4,"y":4.93},{"k":1,"v":-6.75,"x":7,"y":4.9},
{"k":2,"v":-6.25,"x":-2,"y":4.42},{"k":2,"v":-6.25,"x":0,"y":4.22},{"k":2,"v":-6.25,"x":1,"y":4.55},{"k":2,"v":-6.25,"x":2.2,"y":4.8},{"k":2,"v":-6.25,"x":4,"y":4.85},{"k":2,"v":-6.25,"x":7,"y":4.8},
{"k":3,"v":-5.75,"x":-2,"y":4.1},{"k":3,"v":-5.75,"x":0,"y":3.85},{"k":3,"v":-5.75,"x":1,"y":4.2},{"k":3,"v":-5.75,"x":2,"y":4.58},{"k":3,"v":-5.75,"x":3.5,"y":4.75},{"k":3,"v":-5.75,"x":5.5,"y":4.72},{"k":3,"v":-5.75,"x":7,"y":4.62},
{"k":4,"v":-5.25,"x":-2,"y":3.75},{"k":4,"v":-5.25,"x":0,"y":3.5},{"k":4,"v":-5.25,"x":1,"y":3.85},{"k":4,"v":-5.25,"x":1.8,"y":4.35},{"k":4,"v":-5.25,"x":3,"y":4.6},{"k":4,"v":-5.25,"x":5,"y":4.58},{"k":4,"v":-5.25,"x":7,"y":4.45},
{"k":5,"v":-4.75,"x":-2,"y":3.45},{"k":5,"v":-4.75,"x":0,"y":3.17},{"k":5,"v":-4.75,"x":1,"y":3.5},{"k":5,"v":-4.75,"x":1.7,"y":4.1},{"k":5,"v":-4.75,"x":3,"y":4.42},{"k":5,"v":-4.75,"x":5,"y":4.35},{"k":5,"v":-4.75,"x":7,"y":4.25},
{"k":6,"v":-4.25,"x":-2,"y":3.05},{"k":6,"v":-4.25,"x":0,"y":2.85},{"k":6,"v":-4.25,"x":0.8,"y":3.1},{"k":6,"v":-4.25,"x":1.6,"y":3.8},{"k":6,"v":-4.25,"x":3,"y":4.18},{"k":6,"v":-4.25,"x":4.5,"y":4.1},{"k":6,"v":-4.25,"x":6,"y":3.88},{"k":6,"v":-4.25,"x":7,"y":3.78},
{"k":7,"v":-3.75,"x":-2,"y":2.58},{"k":7,"v":-3.75,"x":0,"y":2.55},{"k":7,"v":-3.75,"x":1,"y":2.62},{"k":7,"v":-3.75,"x":1.6,"y":2.95},{"k":7,"v":-3.75,"x":2,"y":3.5},{"k":7,"v":-3.75,"x":3,"y":3.85},{"k":7,"v":-3.75,"x":4,"y":3.7},{"k":7,"v":-3.75,"x":4.8,"y":3.2},{"k":7,"v":-3.75,"x":5.6,"y":2.98},{"k":7,"v":-3.75,"x":6.3,"y":3.05},{"k":7,"v":-3.75,"x":7,"y":3.4},
{"k":8,"v":-3.25,"x":-2,"y":2.25},{"k":8,"v":-3.25,"x":0,"y":2.32},{"k":8,"v":-3.25,"x":1,"y":2.15},{"k":8,"v":-3.25,"x":1.6,"y":1.6},{"k":8,"v":-3.25,"x":2.2,"y":1.15},{"k":8,"v":-3.25,"x":3,"y":1.05},{"k":8,"v":-3.25,"x":4,"y":1.3},{"k":8,"v":-3.25,"x":5,"y":1.53},{"k":8,"v":-3.25,"x":6,"y":1.45},{"k":8,"v":-3.25,"x":7,"y":1.3},
{"k":9,"v":-2.75,"x":-2,"y":1.85},{"k":9,"v":-2.75,"x":0,"y":1.98},{"k":9,"v":-2.75,"x":1,"y":1.75},{"k":9,"v":-2.75,"x":1.6,"y":1.25},{"k":9,"v":-2.75,"x":2.3,"y":0.95},{"k":9,"v":-2.75,"x":3.5,"y":0.85},{"k":9,"v":-2.75,"x":5,"y":0.98},{"k":9,"v":-2.75,"x":6,"y":0.95},{"k":9,"v":-2.75,"x":7,"y":0.87},
{"k":10,"v":-2.25,"x":-2,"y":1.55},{"k":10,"v":-2.25,"x":0,"y":1.65},{"k":10,"v":-2.25,"x":1,"y":1.4},{"k":10,"v":-2.25,"x":1.7,"y":0.95},{"k":10,"v":-2.25,"x":2.5,"y":0.75},{"k":10,"v":-2.25,"x":4,"y":0.72},{"k":10,"v":-2.25,"x":5.5,"y":0.75},{"k":10,"v":-2.25,"x":7,"y":0.66},
{"k":11,"v":-1.75,"x":-2,"y":1.25},{"k":11,"v":-1.75,"x":0,"y":1.38},{"k":11,"v":-1.75,"x":1,"y":1.08},{"k":11,"v":-1.75,"x":1.8,"y":0.72},{"k":11,"v":-1.75,"x":3,"y":0.58},{"k":11,"v":-1.75,"x":4.5,"y":0.56},{"k":11,"v":-1.75,"x":7,"y":0.48},
{"k":12,"v":-1.25,"x":-2,"y":0.95},{"k":12,"v":-1.25,"x":0,"y":1.08},{"k":12,"v":-1.25,"x":1,"y":0.8},{"k":12,"v":-1.25,"x":1.9,"y":0.52},{"k":12,"v":-1.25,"x":3,"y":0.42},{"k":12,"v":-1.25,"x":5,"y":0.4},{"k":12,"v":-1.25,"x":7,"y":0.33},
{"k":13,"v":-0.75,"x":-2,"y":0.65},{"k":13,"v":-0.75,"x":0,"y":0.8},{"k":13,"v":-0.75,"x":1,"y":0.52},{"k":13,"v":-0.75,"x":2,"y":0.32},{"k":13,"v":-0.75,"x":3.5,"y":0.26},{"k":13,"v":-0.75,"x":7,"y":0.2},
{"k":14,"v":-0.47,"x":-2,"y":0.3},{"k":14,"v":-0.47,"x":0,"y":0.47},{"k":14,"v":-0.47,"x":1,"y":0.28},{"k":14,"v":-0.47,"x":2,"y":0.13},{"k":14,"v":-0.47,"x":4,"y":0.1},{"k":14,"v":-0.47,"x":7,"y":0.1}],
"c4":[{"k":1,"v":-4.25,"x":2.05,"y":2.1},{"k":1,"v":-4.25,"x":2.4,"y":2.33},{"k":1,"v":-4.25,"x":3.3,"y":2.32},{"k":1,"v":-4.25,"x":4.2,"y":2.3},{"k":1,"v":-4.25,"x":4.42,"y":2.05},{"k":1,"v":-4.25,"x":4.1,"y":1.55},{"k":1,"v":-4.25,"x":3.2,"y":1.2},{"k":1,"v":-4.25,"x":2.5,"y":1.35},
{"k":2,"v":-3.25,"x":2.6,"y":3.2},{"k":2,"v":-3.25,"x":2.9,"y":3.45},{"k":2,"v":-3.25,"x":3.4,"y":3.42},{"k":2,"v":-3.25,"x":3.6,"y":3.15},{"k":2,"v":-3.25,"x":3.3,"y":2.93},{"k":2,"v":-3.25,"x":2.85,"y":2.95}],
"a5":[{"k":0,"v":-7.2,"x":-2,"y":5},{"k":0,"v":-7.2,"x":7,"y":5},
{"k":1,"v":-6.75,"x":-2,"y":4.8},{"k":1,"v":-6.75,"x":0,"y":4.72},{"k":1,"v":-6.75,"x":1,"y":4.62},{"k":1,"v":-6.75,"x":2,"y":4.75},{"k":1,"v":-6.75,"x":3.5,"y":4.88},{"k":1,"v":-6.75,"x":7,"y":4.85},
{"k":2,"v":-6.25,"x":-2,"y":4.4},{"k":2,"v":-6.25,"x":0,"y":4.27},{"k":2,"v":-6.25,"x":1,"y":4.12},{"k":2,"v":-6.25,"x":2,"y":4.35},{"k":2,"v":-6.25,"x":3.5,"y":4.68},{"k":2,"v":-6.25,"x":5.5,"y":4.7},{"k":2,"v":-6.25,"x":7,"y":4.55},
{"k":3,"v":-5.75,"x":-2,"y":4},{"k":3,"v":-5.75,"x":0,"y":3.87},{"k":3,"v":-5.75,"x":1,"y":3.7},{"k":3,"v":-5.75,"x":2,"y":3.95},{"k":3,"v":-5.75,"x":3.2,"y":4.35},{"k":3,"v":-5.75,"x":4.5,"y":4.5},{"k":3,"v":-5.75,"x":5.8,"y":4.35},{"k":3,"v":-5.75,"x":7,"y":4.18},
{"k":4,"v":-5.25,"x":-2,"y":3.62},{"k":4,"v":-5.25,"x":0,"y":3.5},{"k":4,"v":-5.25,"x":1,"y":3.35},{"k":4,"v":-5.25,"x":2,"y":3.6},{"k":4,"v":-5.25,"x":3,"y":4.05},{"k":4,"v":-5.25,"x":4.3,"y":4.3},{"k":4,"v":-5.25,"x":5.5,"y":4.1},{"k":4,"v":-5.25,"x":7,"y":3.78},
{"k":5,"v":-4.75,"x":-2,"y":3.28},{"k":5,"v":-4.75,"x":0,"y":3.2},{"k":5,"v":-4.75,"x":1,"y":3.07},{"k":5,"v":-4.75,"x":2,"y":3.3},{"k":5,"v":-4.75,"x":3,"y":3.8},{"k":5,"v":-4.75,"x":4.2,"y":4.15},{"k":5,"v":-4.75,"x":5.5,"y":3.85},{"k":5,"v":-4.75,"x":7,"y":3.4},
{"k":6,"v":-4.25,"x":-2,"y":2.95},{"k":6,"v":-4.25,"x":0,"y":2.9},{"k":6,"v":-4.25,"x":1,"y":2.8},{"k":6,"v":-4.25,"x":2,"y":2.98},{"k":6,"v":-4.25,"x":3,"y":3.55},{"k":6,"v":-4.25,"x":4.2,"y":3.97},{"k":6,"v":-4.25,"x":5.5,"y":3.55},{"k":6,"v":-4.25,"x":7,"y":3.05},
{"k":7,"v":-3.75,"x":-2,"y":2.6},{"k":7,"v":-3.75,"x":0,"y":2.58},{"k":7,"v":-3.75,"x":2,"y":2.6},{"k":7,"v":-3.75,"x":2.7,"y":2.78},{"k":7,"v":-3.75,"x":3.3,"y":3.3},{"k":7,"v":-3.75,"x":4.2,"y":3.65},{"k":7,"v":-3.75,"x":5,"y":3.35},{"k":7,"v":-3.75,"x":5.7,"y":2.85},{"k":7,"v":-3.75,"x":6.3,"y":2.65},{"k":7,"v":-3.75,"x":7,"y":2.58},
{"k":8,"v":-3.25,"x":-2,"y":2.2},{"k":8,"v":-3.25,"x":0,"y":2.15},{"k":8,"v":-3.25,"x":1,"y":2.12},{"k":8,"v":-3.25,"x":2,"y":1.85},{"k":8,"v":-3.25,"x":2.7,"y":1.35},{"k":8,"v":-3.25,"x":3.5,"y":1.15},{"k":8,"v":-3.25,"x":4.5,"y":1.1},{"k":8,"v":-3.25,"x":5.5,"y":1.5},{"k":8,"v":-3.25,"x":6.3,"y":1.9},{"k":8,"v":-3.25,"x":7,"y":2.08},
{"k":9,"v":-2.75,"x":-2,"y":1.9},{"k":9,"v":-2.75,"x":0,"y":1.9},{"k":9,"v":-2.75,"x":1,"y":1.78},{"k":9,"v":-2.75,"x":2,"y":1.45},{"k":9,"v":-2.75,"x":3,"y":0.98},{"k":9,"v":-2.75,"x":4.2,"y":0.82},{"k":9,"v":-2.75,"x":5.5,"y":1.05},{"k":9,"v":-2.75,"x":7,"y":1.55},
{"k":10,"v":-2.25,"x":-2,"y":1.55},{"k":10,"v":-2.25,"x":0,"y":1.6},{"k":10,"v":-2.25,"x":1,"y":1.5},{"k":10,"v":-2.25,"x":2,"y":1.2},{"k":10,"v":-2.25,"x":3,"y":0.8},{"k":10,"v":-2.25,"x":4.2,"y":0.65},{"k":10,"v":-2.25,"x":5.5,"y":0.82},{"k":10,"v":-2.25,"x":7,"y":1.2},
{"k":11,"v":-1.75,"x":-2,"y":1.25},{"k":11,"v":-1.75,"x":0,"y":1.3},{"k":11,"v":-1.75,"x":1,"y":1.32},{"k":11,"v":-1.75,"x":2,"y":1},{"k":11,"v":-1.75,"x":3,"y":0.62},{"k":11,"v":-1.75,"x":4.2,"y":0.48},{"k":11,"v":-1.75,"x":5.5,"y":0.62},{"k":11,"v":-1.75,"x":7,"y":0.9},
{"k":12,"v":-1.25,"x":-2,"y":0.98},{"k":12,"v":-1.25,"x":0,"y":1.05},{"k":12,"v":-1.25,"x":1,"y":1.12},{"k":12,"v":-1.25,"x":2,"y":0.8},{"k":12,"v":-1.25,"x":3,"y":0.46},{"k":12,"v":-1.25,"x":4.2,"y":0.35},{"k":12,"v":-1.25,"x":5.5,"y":0.46},{"k":12,"v":-1.25,"x":7,"y":0.7},
{"k":13,"v":-0.75,"x":-2,"y":0.68},{"k":13,"v":-0.75,"x":0,"y":0.72},{"k":13,"v":-0.75,"x":1,"y":0.85},{"k":13,"v":-0.75,"x":2,"y":0.6},{"k":13,"v":-0.75,"x":3,"y":0.3},{"k":13,"v":-0.75,"x":4.2,"y":0.22},{"k":13,"v":-0.75,"x":5.5,"y":0.3},{"k":13,"v":-0.75,"x":7,"y":0.45},
{"k":14,"v":-0.47,"x":-2,"y":0.3},{"k":14,"v":-0.47,"x":0,"y":0.35},{"k":14,"v":-0.47,"x":1,"y":0.47},{"k":14,"v":-0.47,"x":2,"y":0.28},{"k":14,"v":-0.47,"x":3,"y":0.13},{"k":14,"v":-0.47,"x":4.2,"y":0.08},{"k":14,"v":-0.47,"x":5.5,"y":0.13},{"k":14,"v":-0.47,"x":7,"y":0.18}],
"c5":[{"k":1,"v":-4.25,"x":3.4,"y":2},{"k":1,"v":-4.25,"x":3.65,"y":2.27},{"k":1,"v":-4.25,"x":4.3,"y":2.3},{"k":1,"v":-4.25,"x":4.9,"y":2.2},{"k":1,"v":-4.25,"x":5,"y":1.93},{"k":1,"v":-4.25,"x":4.65,"y":1.58},{"k":1,"v":-4.25,"x":4.2,"y":1.47},{"k":1,"v":-4.25,"x":3.75,"y":1.6}]
},
"concat":[
{"title":"t=0","width":117.5,"height":101.7,"encoding":{"x":{"field":"x","type":"quantitative","scale":{"domain":[-2,7],"nice":false},"axis":{"values":[-2,0,2,4,6]}},"y":{"field":"y","type":"quantitative","scale":{"domain":[0,5],"nice":false},"axis":{"values":[0,1,2,3,4,5]}},"detail":{"field":"k"},"fill":{"field":"v","type":"quantitative","title":null,"scale":{"domain":[-8.8,-7.41,-6.01,-4.62,-3.23,-1.84,-0.44,0.95],"range":["#3e26a8","#4852f4","#2d87f7","#12b1d6","#37c897","#abc739","#fec338","#f9fb15"]},"legend":{"values":[-8,-6,-4,-2,0]}}},
"layer":[{"data":{"name":"a0"},"mark":{"type":"area","interpolate":"monotone","opacity":1,"stroke":"#000000","strokeWidth":0.9,"clip":true},"encoding":{"y2":{"datum":0}}},{"data":{"name":"c0"},"transform":[{"window":[{"op":"row_number","as":"o"}]}],"mark":{"type":"line","interpolate":"cardinal-closed","stroke":"#000000","strokeWidth":0.9,"clip":true},"encoding":{"order":{"field":"o","type":"quantitative"}}}]},
{"title":"t=2","width":117.5,"height":101.7,"encoding":{"x":{"field":"x","type":"quantitative","scale":{"domain":[-2,7],"nice":false},"axis":{"values":[-2,0,2,4,6]}},"y":{"field":"y","type":"quantitative","scale":{"domain":[0,5],"nice":false},"axis":{"values":[0,1,2,3,4,5]}},"detail":{"field":"k"},"fill":{"field":"v","type":"quantitative","title":null,"scale":{"domain":[-7.3,-6.32,-5.34,-4.36,-3.39,-2.41,-1.43,-0.45],"range":["#3e26a8","#4852f4","#2d87f7","#12b1d6","#37c897","#abc739","#fec338","#f9fb15"]},"legend":{"values":[-6,-4,-2]}}},
"layer":[{"data":{"name":"a1"},"mark":{"type":"area","interpolate":"monotone","opacity":1,"stroke":"#000000","strokeWidth":0.9,"clip":true},"encoding":{"y2":{"datum":0}}},{"data":{"name":"c1"},"transform":[{"window":[{"op":"row_number","as":"o"}]}],"mark":{"type":"line","interpolate":"cardinal-closed","stroke":"#000000","strokeWidth":0.9,"clip":true},"encoding":{"order":{"field":"o","type":"quantitative"}}}]},
{"title":"t=4","width":117.5,"height":101.7,"encoding":{"x":{"field":"x","type":"quantitative","scale":{"domain":[-2,7],"nice":false},"axis":{"values":[-2,0,2,4,6]}},"y":{"field":"y","type":"quantitative","scale":{"domain":[0,5],"nice":false},"axis":{"values":[0,1,2,3,4,5]}},"detail":{"field":"k"},"fill":{"field":"v","type":"quantitative","title":null,"scale":{"domain":[-7.3,-6.32,-5.34,-4.36,-3.39,-2.41,-1.43,-0.45],"range":["#3e26a8","#4852f4","#2d87f7","#12b1d6","#37c897","#abc739","#fec338","#f9fb15"]},"legend":{"values":[-6,-4,-2]}}},
"layer":[{"data":{"name":"a2"},"mark":{"type":"area","interpolate":"monotone","opacity":1,"stroke":"#000000","strokeWidth":0.9,"clip":true},"encoding":{"y2":{"datum":0}}},{"data":{"name":"c2"},"transform":[{"window":[{"op":"row_number","as":"o"}]}],"mark":{"type":"line","interpolate":"cardinal-closed","stroke":"#000000","strokeWidth":0.9,"clip":true},"encoding":{"order":{"field":"o","type":"quantitative"}}}]},
{"title":"t=6","width":117.5,"height":101.7,"encoding":{"x":{"field":"x","type":"quantitative","scale":{"domain":[-2,7],"nice":false},"axis":{"values":[-2,0,2,4,6]}},"y":{"field":"y","type":"quantitative","scale":{"domain":[0,5],"nice":false},"axis":{"values":[0,1,2,3,4,5]}},"detail":{"field":"k"},"fill":{"field":"v","type":"quantitative","title":null,"scale":{"domain":[-7.3,-6.32,-5.34,-4.36,-3.39,-2.41,-1.43,-0.45],"range":["#3e26a8","#4852f4","#2d87f7","#12b1d6","#37c897","#abc739","#fec338","#f9fb15"]},"legend":{"values":[-6,-4,-2]}}},
"layer":[{"data":{"name":"a3"},"mark":{"type":"area","interpolate":"monotone","opacity":1,"stroke":"#000000","strokeWidth":0.9,"clip":true},"encoding":{"y2":{"datum":0}}},{"data":{"name":"c3"},"transform":[{"window":[{"op":"row_number","as":"o"}]}],"mark":{"type":"line","interpolate":"cardinal-closed","stroke":"#000000","strokeWidth":0.9,"clip":true},"encoding":{"order":{"field":"o","type":"quantitative"}}}]},
{"title":"t=9","width":117.5,"height":101.7,"encoding":{"x":{"field":"x","type":"quantitative","scale":{"domain":[-2,7],"nice":false},"axis":{"values":[-2,0,2,4,6]}},"y":{"field":"y","type":"quantitative","scale":{"domain":[0,5],"nice":false},"axis":{"values":[0,1,2,3,4,5]}},"detail":{"field":"k"},"fill":{"field":"v","type":"quantitative","title":null,"scale":{"domain":[-7.3,-6.32,-5.34,-4.36,-3.39,-2.41,-1.43,-0.45],"range":["#3e26a8","#4852f4","#2d87f7","#12b1d6","#37c897","#abc739","#fec338","#f9fb15"]},"legend":{"values":[-6,-4,-2]}}},
"layer":[{"data":{"name":"a4"},"mark":{"type":"area","interpolate":"monotone","opacity":1,"stroke":"#000000","strokeWidth":0.9,"clip":true},"encoding":{"y2":{"datum":0}}},{"data":{"name":"c4"},"transform":[{"window":[{"op":"row_number","as":"o"}]}],"mark":{"type":"line","interpolate":"cardinal-closed","stroke":"#000000","strokeWidth":0.9,"clip":true},"encoding":{"order":{"field":"o","type":"quantitative"}}}]},
{"title":"t=12","width":117.5,"height":101.7,"encoding":{"x":{"field":"x","type":"quantitative","scale":{"domain":[-2,7],"nice":false},"axis":{"values":[-2,0,2,4,6]}},"y":{"field":"y","type":"quantitative","scale":{"domain":[0,5],"nice":false},"axis":{"values":[0,1,2,3,4,5]}},"detail":{"field":"k"},"fill":{"field":"v","type":"quantitative","title":null,"scale":{"domain":[-7.3,-6.32,-5.34,-4.36,-3.39,-2.41,-1.43,-0.45],"range":["#3e26a8","#4852f4","#2d87f7","#12b1d6","#37c897","#abc739","#fec338","#f9fb15"]},"legend":{"values":[-6,-4,-2]}}},
"layer":[{"data":{"name":"a5"},"mark":{"type":"area","interpolate":"monotone","opacity":1,"stroke":"#000000","strokeWidth":0.9,"clip":true},"encoding":{"y2":{"datum":0}}},{"data":{"name":"c5"},"transform":[{"window":[{"op":"row_number","as":"o"}]}],"mark":{"type":"line","interpolate":"cardinal-closed","stroke":"#000000","strokeWidth":0.9,"clip":true},"encoding":{"order":{"field":"o","type":"quantitative"}}}]}
],
"resolve":{"scale":{"fill":"independent"},"legend":{"fill":"independent"}}}
